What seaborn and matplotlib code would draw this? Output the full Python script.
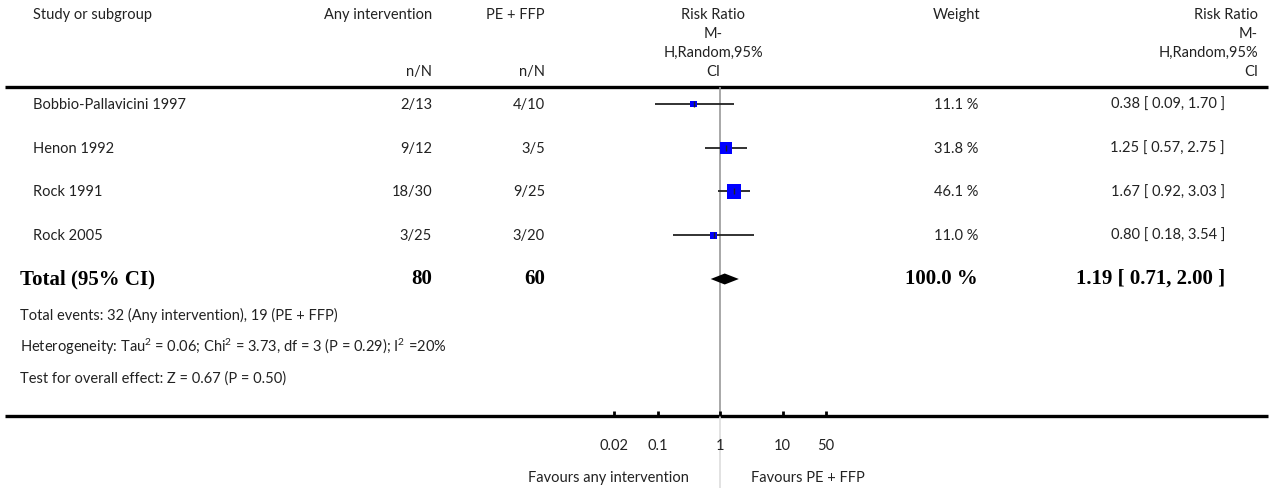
import numpy as np
import pandas as pd
import matplotlib
matplotlib.use("Agg")
import matplotlib.pyplot as plt
import seaborn as sns

# data
studies = ["Bobbio-Pallavicini 1997", "Henon 1992", "Rock 1991", "Rock 2005"]
any_int = ["2/13", "9/12", "18/30", "3/25"]
pe_ffp = ["4/10", "3/5", "9/25", "3/20"]
weights = [11.1, 31.8, 46.1, 11.0]
rr = [0.38, 1.25, 1.67, 0.80]
lo = [0.09, 0.57, 0.92, 0.18]
hi = [1.70, 2.75, 3.03, 3.54]
total_rr, total_lo, total_hi = 1.19, 0.71, 2.00
total_n = ["80", "60"]
tick_vals = [0.02, 0.1, 1, 10, 50]
tick_labels = ["0.02", "0.1", "1", "10", "50"]
notes = [
    "Total events: 32 (Any intervention), 19 (PE + FFP)",
    "Heterogeneity: Tau$^{2}$ = 0.06; Chi$^{2}$ = 3.73, df = 3 (P = 0.29); I$^{2}$ =20%",
    "Test for overall effect: Z = 0.67 (P = 0.50)",
]

sns.set_style("white")
plt.rcParams["font.family"] = ["Lato", "DejaVu Sans"]
plt.rcParams["mathtext.fontset"] = "custom"
plt.rcParams["mathtext.rm"] = "Lato"
plt.rcParams["mathtext.default"] = "rm"

W, H = 1270, 488
fig = plt.figure(figsize=(12.7, 4.88), dpi=100)
ax = fig.add_axes([0, 0, 1, 1])
ax.set_xlim(0, W)
ax.set_ylim(H, 0)
ax.axis("off")

txt = "#222222"
fs = 10.5
row_y = [104 + i * 43.7 for i in range(len(studies))]
tot_y = 279

# header
ax.text(33, 15, "Study or subgroup", fontsize=fs, color=txt, va="center")
ax.text(432, 15, "Any intervention", fontsize=fs, color=txt, va="center", ha="right")
ax.text(545, 15, "PE + FFP", fontsize=fs, color=txt, va="center", ha="right")
ax.text(432, 72, "n/N", fontsize=fs, color=txt, va="center", ha="right")
ax.text(545, 72, "n/N", fontsize=fs, color=txt, va="center", ha="right")
ax.text(980, 15, "Weight", fontsize=fs, color=txt, va="center", ha="right")
for yy, s in zip([15, 34, 53, 72], ["Risk Ratio", "M-", "H,Random,95%", "CI"]):
    ax.text(713, yy, s, fontsize=fs, color=txt, va="center", ha="center")
    ax.text(1258, yy, s, fontsize=fs, color=txt, va="center", ha="right")
ax.hlines([87], 5, 1268, color="black", lw=2.4)
ax.hlines([416], 5, 1268, color="black", lw=2.4)

# study rows
for i, yy in enumerate(row_y):
    ax.text(33, yy + 1, studies[i], fontsize=fs, color=txt, va="center")
    ax.text(432, yy + 1, any_int[i], fontsize=fs, color=txt, va="center", ha="right")
    ax.text(545, yy + 1, pe_ffp[i], fontsize=fs, color=txt, va="center", ha="right")
    ax.text(978, yy + 1, f"{weights[i]:.1f} %", fontsize=fs, color=txt, va="center", ha="right")
    ax.text(1225, yy + 1, f"{rr[i]:.2f} [ {lo[i]:.2f}, {hi[i]:.2f} ]",
            fontsize=fs, color=txt, va="center", ha="right")

bold = dict(fontsize=15, color="black", va="center", fontweight="bold",
            family=["Liberation Serif", "DejaVu Serif"])
ax.text(20, tot_y, "Total (95% CI)", **bold)
ax.text(432, tot_y, total_n[0], ha="right", **bold)
ax.text(545, tot_y, total_n[1], ha="right", **bold)
ax.text(978, tot_y, "100.0 %", ha="right", **bold)
ax.text(1225, tot_y, f"{total_rr:.2f} [ {total_lo:.2f}, {total_hi:.2f} ]", ha="right", **bold)

for k, s in enumerate(notes):
    ax.text(20, 315 + 32 * k, s, fontsize=fs, color=txt, va="center")

# forest panel: log scale from 0.01 to 100 placed at pixels 595..845
fx0, fx1 = 595, 845
fax = fig.add_axes([fx0 / W, 0, (fx1 - fx0) / W, 1])
fax.set_xscale("log")
fax.set_xlim(0.01, 100)
fax.set_ylim(H, 0)
fax.axis("off")
fax.patch.set_alpha(0)

fax.vlines(1, 87, 416, color="#999999", lw=1.2, zorder=1)
fax.vlines(1, 416, H, color="#dddddd", lw=1.2, zorder=1)

fax.hlines(row_y, lo, hi, color="#222222", lw=1.3, zorder=2)
df = pd.DataFrame({"rr": rr, "y": row_y, "w": weights})
sns.scatterplot(data=df, x="rr", y="y", size="w", sizes=(25.1, 105.4),
                size_norm=(11.0, 46.1), marker="s", color="#0000ff",
                linewidth=0, legend=False, ax=fax, zorder=3)
fax.scatter(rr, row_y, marker="|", s=18, color="#222222", linewidths=1, zorder=4)

fax.fill([total_lo, total_rr, total_hi, total_rr],
         [tot_y, tot_y - 5.5, tot_y, tot_y + 5.5], color="black", lw=0, zorder=3)

fax.vlines(tick_vals, 411, 416, color="black", lw=2)
for v, s in zip(tick_vals, tick_labels):
    fax.text(v, 446, s, fontsize=fs, color=txt, ha="center", va="center")
fax.text(0.32, 478, "Favours any intervention", fontsize=fs, color=txt, ha="right", va="center")
fax.text(3.1, 478, "Favours PE + FFP", fontsize=fs, color=txt, ha="left", va="center")

fig.savefig("out.png", dpi=100)
